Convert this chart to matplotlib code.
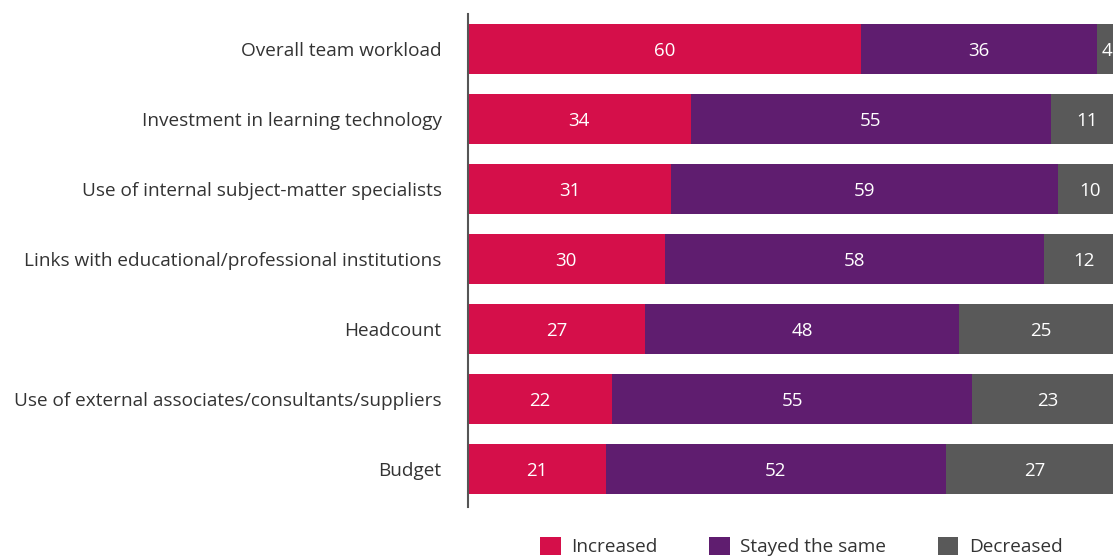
import matplotlib
matplotlib.use("Agg")
import matplotlib.pyplot as plt
from matplotlib.patches import Patch

categories = [
    "Overall team workload",
    "Investment in learning technology",
    "Use of internal subject-matter specialists",
    "Links with educational/professional institutions",
    "Headcount",
    "Use of external associates/consultants/suppliers",
    "Budget",
]
increased = [60, 34, 31, 30, 27, 22, 21]
same = [36, 55, 59, 58, 48, 55, 52]
decreased = [4, 11, 10, 12, 25, 23, 27]
series_names = ["Increased", "Stayed the same", "Decreased"]
colors = ["#d50f4a", "#5f1d6f", "#595959"]

plt.rcParams['font.family'] = ['Open Sans', 'DejaVu Sans']

W, H = 1113, 559
fig = plt.figure(figsize=(W / 100, H / 100), dpi=100)
ax = fig.add_axes([468 / W, 1 - 507 / H, (1123 - 468) / W, (507 - 14) / H])

y = list(range(len(categories)))
left = [0] * len(categories)
for vals, name, col in zip([increased, same, decreased], series_names, colors):
    ax.barh(y, vals, left=left, height=0.715, color=col, label=name)
    for yi, l, v in zip(y, left, vals):
        xc = min(l + v / 2, 97.6)  # keep labels inside the visible figure
        ax.text(xc, yi + 0.03, str(v), ha='center', va='center', color='white', fontsize=13.5)
    left = [a + b for a, b in zip(left, vals)]

ax.set_xlim(0, 100)
ax.set_ylim(6.55, -0.5)
ax.set_yticks(y)
ax.set_yticklabels(categories, fontsize=13.7, color='#333333')
ax.tick_params(axis='y', length=0, pad=19)
ax.set_xticks([])
for s in ['top', 'right', 'bottom']:
    ax.spines[s].set_visible(False)
ax.spines['left'].set_color('#555555')
ax.spines['left'].set_linewidth(1.5)

handles = [Patch(facecolor=c, label=n) for c, n in zip(colors, series_names)]
fig.legend(handles=handles, loc='upper left', bbox_to_anchor=(532 / W, 1 - 529 / H),
           ncol=3, frameon=False, fontsize=13.7, handlelength=1.1, handleheight=1.1,
           handletextpad=0.55, columnspacing=2.7, labelcolor='#333333',
           borderaxespad=0)

fig.savefig("out.png", dpi=100)
